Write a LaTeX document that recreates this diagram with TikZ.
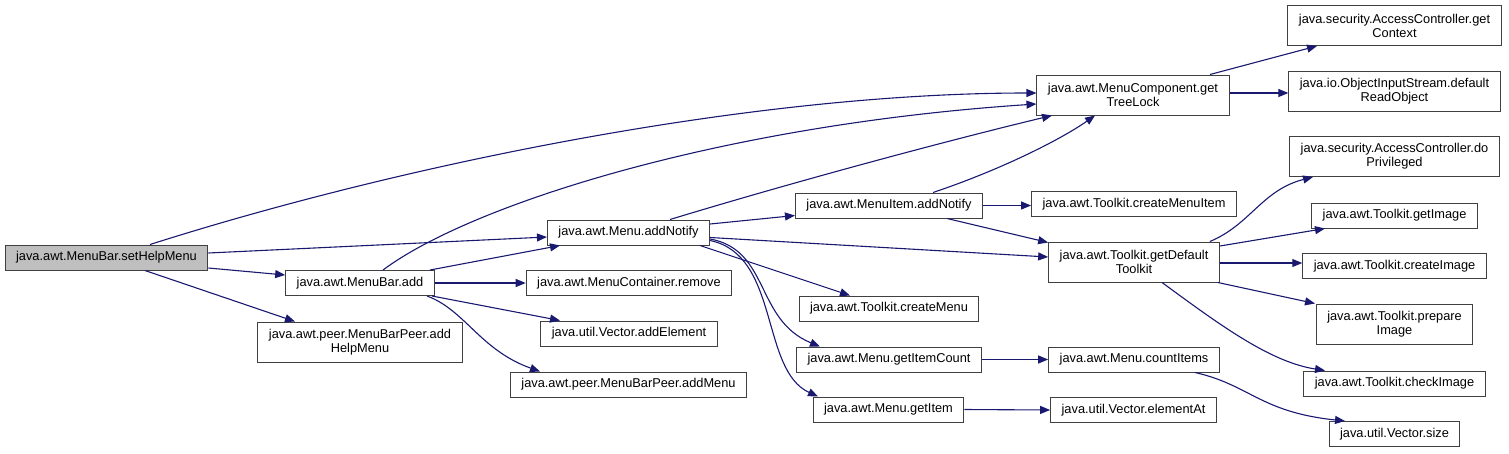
\documentclass[tikz,border=0pt]{standalone}
\usepackage{fontspec}
\setmainfont{Liberation Sans}
\usetikzlibrary{arrows.meta}
\definecolor{edgeblue}{HTML}{191970}
\definecolor{boxline}{HTML}{404040}
\definecolor{rootfill}{HTML}{BFBFBF}

\begin{document}
\begin{tikzpicture}[
    x=1pt, y=-1pt,
    fn/.style={rectangle, draw=boxline, line width=1pt, fill=white, inner xsep=11pt, inner ysep=0pt, font=\fontsize{12.8}{14}\selectfont},
    func/.style={fn, minimum height=25pt, text height=9.4pt, text depth=2.7pt},
    func2/.style={fn, minimum height=40pt, align=center},
    arrow/.style={-{Triangle[length=10pt,width=8pt]}, line width=1.1pt, draw=edgeblue}
]
    \useasboundingbox (0,0) rectangle (1509,453);

    % Caller
    \node[func, fill=rootfill] (sethelp) at (106.5,257.5) {java.awt.MenuBar.setHelpMenu};

    % Second column
    \node[func] (mbadd) at (360,283) {java.awt.MenuBar.add};
    \node[func2] (peerhelp) at (360,342) {java.awt.peer.MenuBarPeer.add\\HelpMenu};

    % Third column
    \node[func] (mnotify) at (628.5,232.5) {java.awt.Menu.addNotify};
    \node[func] (mcremove) at (629,283) {java.awt.MenuContainer.remove};
    \node[func] (vaddelem) at (629,333.5) {java.util.Vector.addElement};
    \node[func] (peermenu) at (628.5,384.5) {java.awt.peer.MenuBarPeer.addMenu};

    % Fourth column
    \node[func] (minotify) at (889,205.5) {java.awt.MenuItem.addNotify};
    \node[func] (tkmenu) at (889,308.5) {java.awt.Toolkit.createMenu};
    \node[func] (mcount) at (889,359.5) {java.awt.Menu.getItemCount};
    \node[func] (mgetitem) at (888.5,409.5) {java.awt.Menu.getItem};

    % Fifth column
    \node[func2] (treelock) at (1133,95) {java.awt.MenuComponent.get\\TreeLock};
    \node[func] (tkmenuitem) at (1134,204) {java.awt.Toolkit.createMenuItem};
    \node[func2] (tkdefault) at (1134,262) {java.awt.Toolkit.getDefault\\Toolkit};
    \node[func] (mcountitems) at (1134,359.5) {java.awt.Menu.countItems};
    \node[func] (velemat) at (1133.5,410) {java.util.Vector.elementAt};

    % Last column
    \node[func2] (acctx) at (1394.5,25.5) {java.security.AccessController.get\\Context};
    \node[func2] (readobj) at (1394.5,91) {java.io.ObjectInputStream.default\\ReadObject};
    \node[func2] (acpriv) at (1394.5,156.5) {java.security.AccessController.do\\Privileged};
    \node[func] (tkgetimg) at (1394.5,215.5) {java.awt.Toolkit.getImage};
    \node[func] (tkcreateimg) at (1394.5,266) {java.awt.Toolkit.createImage};
    \node[func2] (tkprepimg) at (1394.5,324) {java.awt.Toolkit.prepare\\Image};
    \node[func] (tkcheckimg) at (1394.5,383.5) {java.awt.Toolkit.checkImage};
    \node[func] (vsize) at (1394.5,434) {java.util.Vector.size};

    % Calls from setHelpMenu
    \draw[arrow] ([xshift=43.5pt]sethelp.north) .. controls (400,165) and (750,93) .. ([yshift=2pt]treelock.west);
    \draw[arrow] ([yshift=4.5pt]sethelp.east) -- ([yshift=-4.5pt]mnotify.west);
    \draw[arrow] ([yshift=-10.5pt]sethelp.east) -- ([yshift=8pt]mbadd.west);
    \draw[arrow] ([xshift=38.5pt]sethelp.south) -- ([xshift=-65pt]peerhelp.north);

    % Calls from MenuBar.add
    \draw[arrow] ([xshift=23pt]mbadd.north) .. controls (470,205) and (720,125) .. ([yshift=-9pt]treelock.west);
    \draw[arrow] ([xshift=70pt]mbadd.north) -- ([xshift=-68.5pt]mnotify.south);
    \draw[arrow] (mbadd.east) -- (mcremove.west);
    \draw[arrow] ([xshift=72pt]mbadd.south) -- ([xshift=-69pt]vaddelem.north);
    \draw[arrow] ([xshift=67pt]mbadd.south) .. controls (465,310) and (480,350) .. ([xshift=-88.5pt]peermenu.north);

    % Calls from Menu.addNotify
    \draw[arrow] ([xshift=41.5pt]mnotify.north) .. controls (800,180) and (950,140) .. ([xshift=-81pt]treelock.south);
    \draw[arrow] ([yshift=8.5pt]mnotify.east) -- ([yshift=-10pt]minotify.west);
    \draw[arrow] ([yshift=-5pt]mnotify.east) -- ([yshift=5pt]tkdefault.west);
    \draw[arrow] ([xshift=71.5pt]mnotify.south) -- ([xshift=-39pt]tkmenu.north);
    \draw[arrow] ([yshift=-6.5pt]mnotify.east) .. controls (770,250) and (755,320) .. ([xshift=-69pt]mcount.north);
    \draw[arrow] ([yshift=-8pt]mnotify.east) .. controls (780,255) and (760,370) .. ([xshift=-70.5pt]mgetitem.north);

    % Calls from MenuItem.addNotify
    \draw[arrow] ([xshift=44pt]minotify.north) .. controls (1000,170) and (1060,140) .. ([xshift=-38pt]treelock.south);
    \draw[arrow] (minotify.east) -- (minotify.east -| tkmenuitem.west);
    \draw[arrow] ([xshift=58pt]minotify.south) -- ([yshift=-1pt]tkdefault.north west);

    % Calls from getTreeLock
    \draw[arrow] ([xshift=77pt]treelock.north) -- ([xshift=-77.5pt]acctx.south);
    \draw[arrow] ([yshift=2pt]treelock.east) -- ([yshift=-2pt]readobj.west);

    % Calls from getDefaultToolkit
    \draw[arrow] ([xshift=-10pt]tkdefault.north east) .. controls (1250,225) and (1262,190) .. ([xshift=-81.5pt]acpriv.south);
    \draw[arrow] ([yshift=16pt]tkdefault.east) -- ([xshift=-69.5pt]tkgetimg.south);
    \draw[arrow] ([yshift=-1pt]tkdefault.east) -- ([yshift=3pt]tkcreateimg.west);
    \draw[arrow] ([xshift=-2pt]tkdefault.south east) -- ([xshift=-79.5pt]tkprepimg.north);
    \draw[arrow] ([xshift=28pt]tkdefault.south) .. controls (1220,325) and (1270,362) .. ([xshift=-69.5pt]tkcheckimg.north);

    % Remaining calls
    \draw[arrow] (mcount.east) -- (mcountitems.west);
    \draw[arrow] ([xshift=61pt]mcountitems.south) .. controls (1250,385) and (1260,412) .. ([xshift=-49.5pt]vsize.north);
    \draw[arrow] (mgetitem.east) -- (velemat.west);
\end{tikzpicture}
\end{document}
